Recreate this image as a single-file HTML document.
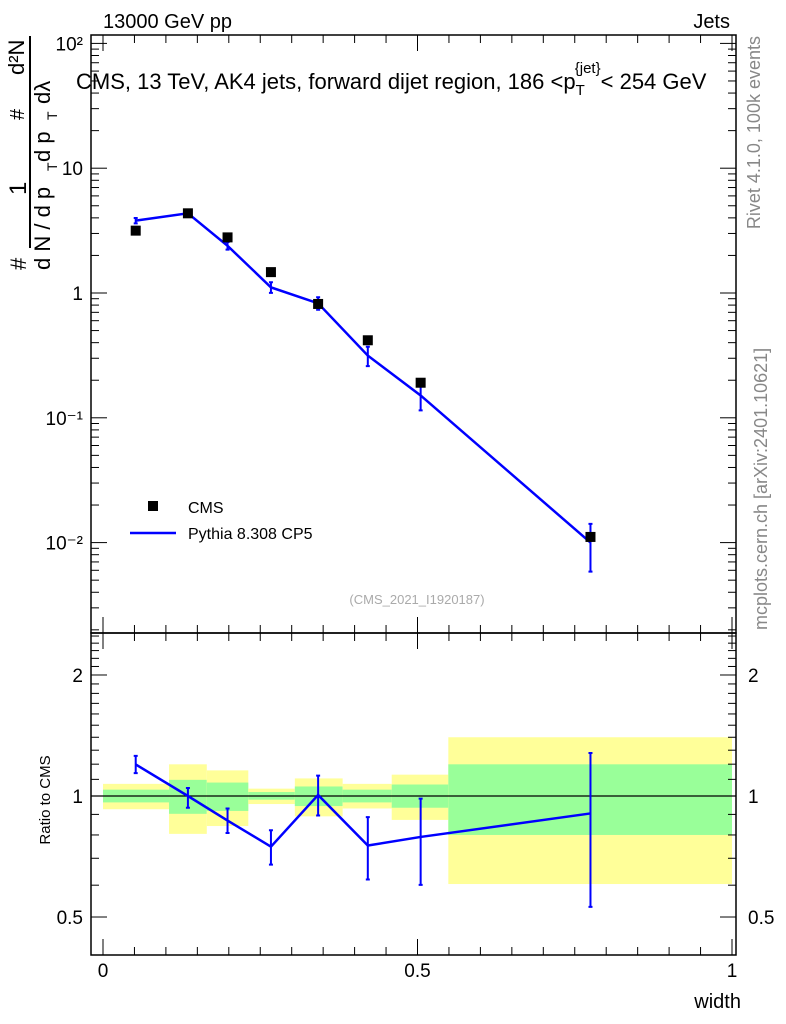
<!DOCTYPE html>
<html><head><meta charset="utf-8"><style>
body{margin:0;background:#fff;}
svg{display:block;font-family:"Liberation Sans",sans-serif;}
</style></head><body>
<svg id="c" width="786" height="1024" viewBox="0 0 786 1024">
<text x="103" y="28" font-size="20">13000 GeV pp</text>
<text x="730" y="28" font-size="20" text-anchor="end">Jets</text>
<text x="760" y="36" font-size="18" fill="#888" transform="rotate(-90 760 36)" text-anchor="end">Rivet 4.1.0,  100k events</text>
<text x="767" y="630" font-size="18" fill="#888" transform="rotate(-90 767 630)">mcplots.cern.ch [arXiv:2401.10621]</text>
<g font-size="22">
<text transform="translate(26,270) rotate(-90)">#</text>
<text transform="translate(26,195) rotate(-90)" font-size="24">1</text>
<line x1="30" y1="248" x2="30" y2="36" stroke="#000" stroke-width="2"/>
<text transform="translate(50,270) rotate(-90)">d N / d p</text>
<text transform="translate(57,171) rotate(-90)" font-size="14">T</text>
<text transform="translate(24,120) rotate(-90)" font-size="20">#</text>
<text transform="translate(50,162) rotate(-90)">d p</text>
<text transform="translate(57,120) rotate(-90)" font-size="14">T</text>
<text transform="translate(50,104) rotate(-90)">dλ</text>
<line x1="30" y1="107" x2="30" y2="36" stroke="#000" stroke-width="2"/>
<text transform="translate(24,75) rotate(-90)" font-size="22">d²N</text>
</g>
<text x="76" y="89" font-size="22">CMS, 13 TeV, AK4 jets, forward dijet region, 186 &lt;p<tspan font-size="15" dy="6">T</tspan><tspan font-size="15" dy="-22" dx="-10">{jet}</tspan><tspan dy="16">&lt; 254 GeV</tspan></text>
<text x="417" y="604" font-size="13" fill="#aaa" text-anchor="middle">(CMS_2021_I1920187)</text>
<text x="50" y="800" font-size="15" transform="rotate(-90 50 800)" text-anchor="middle">Ratio to CMS</text>
<text x="741" y="1008" font-size="20" text-anchor="end">width</text>
<g id="g"></g>
</svg>
<script>
const xCenters=[0.052,0.135,0.198,0.267,0.342,0.421,0.505,0.775];
const binEdges=[0,0.105,0.165,0.231,0.305,0.381,0.459,0.549,1.0];
const cmsValues=[3.16,4.35,2.79,1.47,0.817,0.418,0.191,0.0111];
const mcValues=[3.80,4.35,2.39,1.11,0.827,0.315,0.151,0.0100];
const ratioValues=[1.198,1.0,0.869,0.748,1.006,0.753,0.791,0.905];
const ratioUp=[1.258,1.047,0.931,0.822,1.124,0.886,0.985,1.279];
const ratioDown=[1.14,0.935,0.809,0.675,0.894,0.620,0.601,0.53];
const yellowUp=[1.072,1.199,1.158,1.043,1.106,1.072,1.130,1.400];
const yellowDown=[0.927,0.805,0.842,0.955,0.890,0.931,0.872,0.604];
const greenUp=[1.037,1.097,1.080,1.023,1.056,1.037,1.068,1.199];
const greenDown=[0.964,0.903,0.918,0.979,0.944,0.964,0.935,0.800];
const xTickLabels=["0","0.5","1"];
const mainTickLabels=["10⁻²","10⁻¹","1","10","10²"];
const ratioTickLabels=["0.5","1","2"];

const NS="http://www.w3.org/2000/svg";
const G=document.getElementById('g');
function mk(t,a,p){const e=document.createElementNS(NS,t);for(const k in a)e.setAttribute(k,a[k]);(p||G).appendChild(e);return e;}
const L=91,R=736,T=35,M=633,B=955;
const X=v=>103+v*629;
const Y=v=>293-Math.log10(v)*124.8;
const YR=v=>796-Math.log10(v)*402;

for(let i=0;i<8;i++){
  const x0=X(binEdges[i]),x1=X(binEdges[i+1]);
  let r=mk('rect',{x:x0,y:YR(yellowUp[i]),width:x1-x0,height:YR(yellowDown[i])-YR(yellowUp[i]),fill:'#ffff99'});
  
  
  r=mk('rect',{x:x0,y:YR(greenUp[i]),width:x1-x0,height:YR(greenDown[i])-YR(greenUp[i]),fill:'#99ff99'});
  
  
}
let ul=mk('line',{x1:L,x2:R,y1:YR(1),y2:YR(1),stroke:'#000','stroke-width':1.2});



let f=mk('rect',{x:L,y:T,width:R-L,height:M-T,fill:'none',stroke:'#000','stroke-width':1.5});


f=mk('rect',{x:L,y:M,width:R-L,height:B-M,fill:'none',stroke:'#000','stroke-width':1.5});



for(let k=0;k<=20;k++){
  const v=k*0.05,x=X(v),len=(k%10==0)?16:8;
  for(const [y0,d] of [[T,1],[M,-1],[M,1],[B,-1]]){
    mk('line',{x1:x,x2:x,y1:y0,y2:y0+d*len,stroke:'#000','stroke-width':1});
  }
}
xTickLabels.forEach((s,i)=>{const t=mk('text',{x:X(i*0.5),y:977,'font-size':19,'text-anchor':'middle'});t.textContent=s;

});

for(let e=-3;e<=2;e++){for(let m=1;m<=9;m++){const v=m*Math.pow(10,e),y=Y(v);if(y<T||y>M)continue;const len=m==1?16:8;
  mk('line',{x1:L,x2:L+len,y1:y,y2:y,stroke:'#000'});mk('line',{x1:R,x2:R-len,y1:y,y2:y,stroke:'#000'});}}
mainTickLabels.forEach((s,i)=>{const t=mk('text',{x:83,y:Y(Math.pow(10,i-2))+7,'font-size':19,'text-anchor':'end'});t.textContent=s;

});

for(let k=4;k<=25;k++){const v=k/10,y=YR(v);if(y<M||y>B)continue;const len=(k==5||k==10||k==20)?16:8;
  mk('line',{x1:L,x2:L+len,y1:y,y2:y,stroke:'#000'});mk('line',{x1:R,x2:R-len,y1:y,y2:y,stroke:'#000'});}
ratioTickLabels.forEach((s,i)=>{const v=[0.5,1,2][i];
  let t=mk('text',{x:83,y:YR(v)+7,'font-size':19,'text-anchor':'end'});t.textContent=s;
  
  
  t=mk('text',{x:748,y:YR(v)+7,'font-size':19});t.textContent=s;
  
  });

let pts=xCenters.map((x,i)=>X(x)+','+Y(mcValues[i])).join(' ');
let pl=mk('polyline',{points:pts,fill:'none',stroke:'#0000ff','stroke-width':2.5});


xCenters.forEach((x,i)=>{
  const up=mcValues[i]*ratioUp[i]/ratioValues[i],dn=mcValues[i]*ratioDown[i]/ratioValues[i];
  const e=mk('path',{d:`M${X(x)},${Y(up)}V${Y(dn)}M${X(x)-2},${Y(up)}h4M${X(x)-2},${Y(dn)}h4`,stroke:'#0000ff','stroke-width':2,fill:'none'});
  
  
});
xCenters.forEach((x,i)=>{
  const s=mk('rect',{x:X(x)-5,y:Y(cmsValues[i])-5,width:10,height:10,fill:'#000'});
  
  
});
pts=xCenters.map((x,i)=>X(x)+','+YR(ratioValues[i])).join(' ');
pl=mk('polyline',{points:pts,fill:'none',stroke:'#0000ff','stroke-width':2.5});


xCenters.forEach((x,i)=>{
  const e=mk('path',{d:`M${X(x)},${YR(ratioUp[i])}V${YR(ratioDown[i])}M${X(x)-2},${YR(ratioUp[i])}h4M${X(x)-2},${YR(ratioDown[i])}h4`,stroke:'#0000ff','stroke-width':2,fill:'none'});
  
  
});

let lg=mk('rect',{x:148,y:501,width:10,height:10,fill:'#000'});


let lt=mk('text',{x:188,y:513,'font-size':16});lt.textContent='CMS';


lg=mk('line',{x1:130,x2:176,y1:533,y2:533,stroke:'#0000ff','stroke-width':2.5});


lt=mk('text',{x:188,y:539,'font-size':16});lt.textContent='Pythia 8.308 CP5';


</script>
</body></html>
